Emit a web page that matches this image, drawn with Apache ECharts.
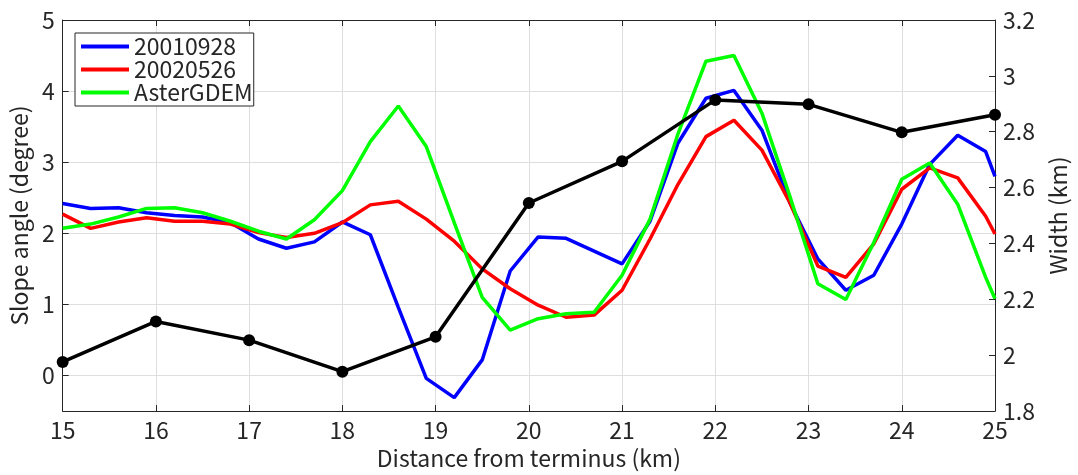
<!DOCTYPE html>
<html>
<head>
<meta charset="utf-8">
<script src="https://cdn.jsdelivr.net/npm/echarts@6/dist/echarts.min.js"></script>
<style>
  html, body { margin: 0; background: #fff; }
  #chart { width: 1078px; height: 475px; }
</style>
</head>
<body>
<div id="chart"></div>
<script>
// distance from terminus (km) for the slope profiles
var distKm = [15, 15.3, 15.6, 15.9, 16.2, 16.5, 16.8, 17.1, 17.4, 17.7, 18, 18.3, 18.6, 18.9, 19.2, 19.5, 19.8,
  20.1, 20.4, 20.7, 21, 21.3, 21.6, 21.9, 22.2, 22.5, 22.8, 23.1, 23.4, 23.7, 24, 24.3, 24.6, 24.9, 25];

var slope20010928 = [2.42, 2.35, 2.36, 2.29, 2.25, 2.23, 2.15, 1.92, 1.79, 1.88, 2.16, 1.98, 0.96, -0.04, -0.31, 0.22, 1.47,
  1.95, 1.93, 1.75, 1.57, 2.17, 3.27, 3.90, 4.01, 3.45, 2.43, 1.64, 1.20, 1.41, 2.13, 2.97, 3.38, 3.15, 2.80];
var slope20020526 = [2.27, 2.07, 2.16, 2.22, 2.17, 2.17, 2.13, 2.01, 1.94, 2.00, 2.15, 2.40, 2.45, 2.20, 1.89, 1.50, 1.22,
  0.99, 0.82, 0.85, 1.20, 1.92, 2.69, 3.36, 3.59, 3.17, 2.43, 1.54, 1.38, 1.85, 2.62, 2.92, 2.78, 2.24, 1.99];
var slopeAster = [2.07, 2.13, 2.23, 2.35, 2.36, 2.29, 2.17, 2.03, 1.92, 2.19, 2.60, 3.29, 3.79, 3.22, 2.15, 1.10, 0.64,
  0.80, 0.87, 0.89, 1.41, 2.20, 3.40, 4.42, 4.50, 3.69, 2.52, 1.29, 1.07, 1.87, 2.76, 2.99, 2.41, 1.38, 1.08];

// glacier width (km), right axis
var widthKm = [15, 16, 17, 18, 19, 20, 21, 22, 23, 24, 25];
var widthVal = [1.976, 2.121, 2.054, 1.941, 2.066, 2.545, 2.694, 2.914, 2.898, 2.798, 2.861];

var leftTicks = [0, 1, 2, 3, 4, 5];

function pairs(xs, ys) {
  return xs.map(function (x, i) { return [x, ys[i]]; });
}

var font = '"Noto Sans CJK JP", "Noto Sans", sans-serif';
var fs = 23;
var axisColor = '#262626';
var gridColor = '#dedede';

var chart = echarts.init(document.getElementById('chart'));

var option = {
  animation: false,
  textStyle: { fontFamily: font },
  grid: { left: 60, right: 80, top: 20, bottom: 62 },
  legend: {
    data: ['20010928', '20020526', 'AsterGDEM'],
    orient: 'vertical',
    left: 75,
    top: 33,
    icon: 'rect',
    itemWidth: 48,
    itemHeight: 4,
    itemGap: 0,
    padding: [2, 1, 2, 6],
    borderColor: '#262626',
    borderWidth: 1,
    borderRadius: 0,
    backgroundColor: '#fff',
    textStyle: { fontFamily: font, fontSize: fs, color: '#262626', lineHeight: 23 }
  },
  xAxis: [{
    type: 'value',
    min: 15,
    max: 25,
    interval: 1,
    position: 'bottom',
    name: 'Distance from terminus (km)',
    nameLocation: 'middle',
    nameGap: 33,
    nameTextStyle: { fontSize: fs, color: axisColor },
    axisLine: { show: true, onZero: false, lineStyle: { color: axisColor, width: 1 } },
    axisTick: { show: true, inside: true, length: 6, lineStyle: { color: axisColor } },
    axisLabel: { fontSize: fs, color: axisColor, margin: 8 },
    splitLine: { show: true, lineStyle: { color: gridColor, width: 1 } }
  }, {
    type: 'value',
    min: 15,
    max: 25,
    interval: 1,
    position: 'top',
    axisLine: { show: true, onZero: false, lineStyle: { color: axisColor, width: 1 } },
    axisTick: { show: true, inside: true, length: 6, lineStyle: { color: axisColor } },
    axisLabel: { show: false },
    splitLine: { show: false }
  }],
  yAxis: [{
    type: 'value',
    min: -0.5,
    max: 5,
    position: 'left',
    name: 'Slope angle (degree)',
    nameLocation: 'middle',
    nameGap: 26,
    nameTextStyle: { fontSize: fs, color: axisColor },
    axisLine: { show: true, onZero: false, lineStyle: { color: axisColor, width: 1 } },
    axisTick: { show: true, inside: true, length: 6, customValues: leftTicks, lineStyle: { color: axisColor } },
    axisLabel: { fontSize: fs, color: axisColor, margin: 8, customValues: leftTicks },
    splitLine: { show: true, lineStyle: { color: gridColor, width: 1 } }
  }, {
    type: 'value',
    min: 1.8,
    max: 3.2,
    interval: 0.2,
    position: 'right',
    name: 'Width (km)',
    nameLocation: 'middle',
    nameGap: 52,
    nameTextStyle: { fontSize: fs, color: axisColor },
    axisLine: { show: true, onZero: false, lineStyle: { color: axisColor, width: 1 } },
    axisTick: { show: true, inside: true, length: 6, lineStyle: { color: axisColor } },
    axisLabel: { fontSize: fs, color: axisColor, margin: 8 },
    splitLine: { show: false }
  }],
  series: [{
    name: '20010928',
    type: 'line',
    data: pairs(distKm, slope20010928),
    showSymbol: false,
    symbol: 'none',
    lineStyle: { color: '#0000ff', width: 3.5 },
    itemStyle: { color: '#0000ff' }
  }, {
    name: '20020526',
    type: 'line',
    data: pairs(distKm, slope20020526),
    showSymbol: false,
    symbol: 'none',
    lineStyle: { color: '#ff0000', width: 3.5 },
    itemStyle: { color: '#ff0000' }
  }, {
    name: 'AsterGDEM',
    type: 'line',
    data: pairs(distKm, slopeAster),
    showSymbol: false,
    symbol: 'none',
    lineStyle: { color: '#00ff00', width: 3.5 },
    itemStyle: { color: '#00ff00' }
  }, {
    name: 'Width',
    type: 'line',
    yAxisIndex: 1,
    data: pairs(widthKm, widthVal),
    symbol: 'circle',
    symbolSize: 12,
    lineStyle: { color: '#000', width: 3.5 },
    itemStyle: { color: '#000' }
  }]
};

chart.setOption(option);
</script>
</body>
</html>
